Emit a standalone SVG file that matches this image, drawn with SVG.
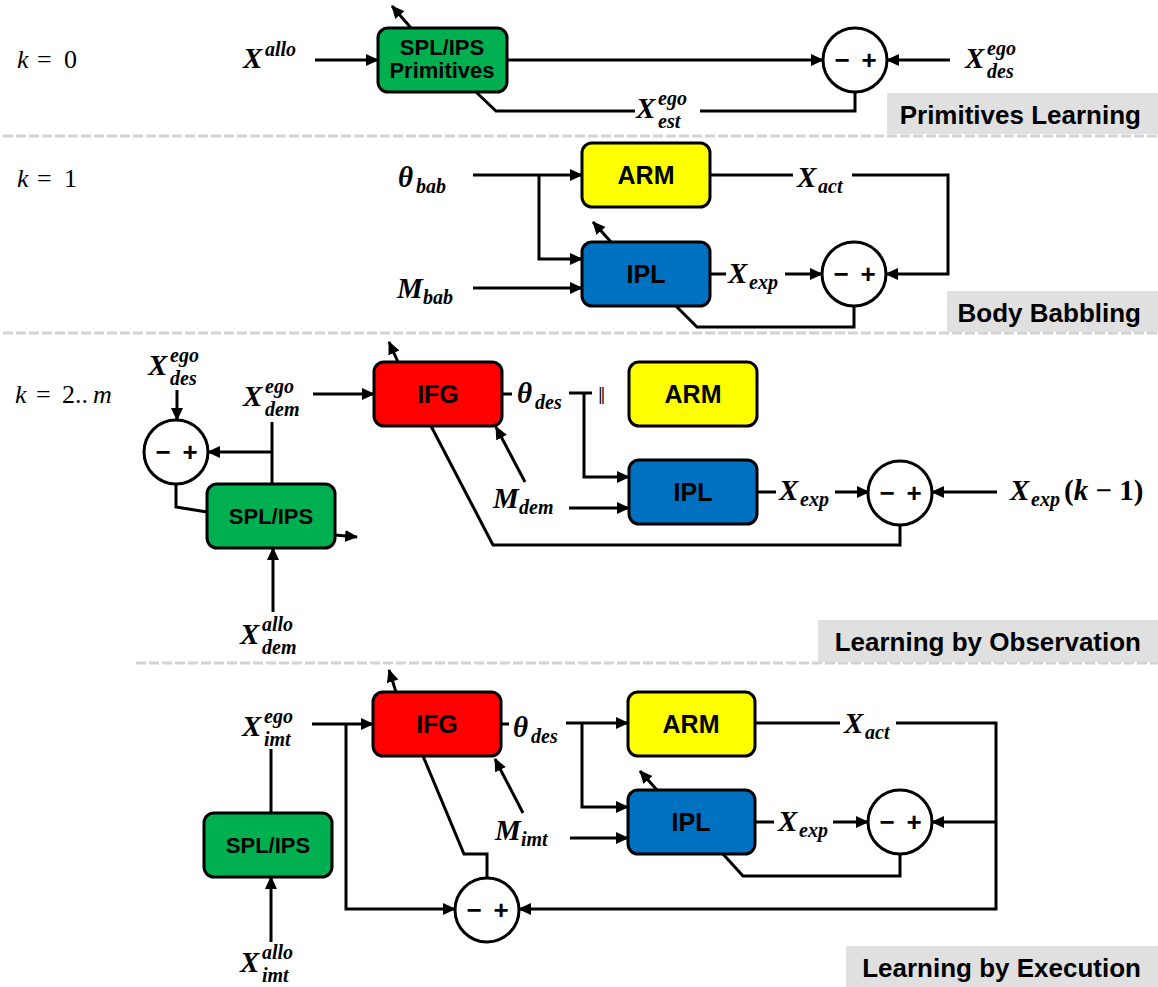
<svg xmlns="http://www.w3.org/2000/svg" width="1158" height="987" viewBox="0 0 1158 987">
<defs>
<marker id="ah" markerUnits="userSpaceOnUse" markerWidth="14" markerHeight="14" refX="12" refY="7" orient="auto">
<path d="M0,1 L13,7 L0,13 z" fill="#000"/>
</marker>
<style>
.box{stroke:#000;stroke-width:3}
.g{fill:#00b050}.y{fill:#ffff00}.b{fill:#0070c0}.r{fill:#ff0000}
.sum{fill:#fff;stroke:#000;stroke-width:3}
.c{fill:none;stroke:#000;stroke-width:3}
.a{marker-end:url(#ah)}
.bt{font-family:"Liberation Sans",Arial,sans-serif;font-weight:bold;font-size:25px;text-anchor:middle;fill:#000}
.bs{font-size:22px}
.pm{font-family:"Liberation Sans",Arial,sans-serif;font-weight:bold;font-size:26px;text-anchor:middle}
.m{font-family:"Liberation Serif","DejaVu Serif",serif;font-style:italic;font-weight:bold;font-size:29px}
.ms{font-size:20px}
.up{font-style:normal}
.k{font-family:"Liberation Serif","DejaVu Serif",serif;font-size:26px}
.lab{font-family:"Liberation Sans",Arial,sans-serif;font-weight:bold;font-size:26px;text-anchor:end}
.lbg{fill:#e0e0e0}
.sep{stroke:#d3d3d3;stroke-width:3;stroke-dasharray:10 3;fill:none}
</style>
</defs>
<rect width="1158" height="987" fill="#fff"/>

<g id="separators">
<path class="sep" d="M3,136 H1158"/>
<path class="sep" d="M3,333 H1158"/>
<path class="sep" d="M136,663 H1158"/>
</g>

<g id="stage-labels">
<rect class="lbg" x="887" y="93" width="271" height="41"/>
<text class="lab" x="1141" y="124">Primitives Learning</text>
<rect class="lbg" x="947" y="291" width="211" height="41"/>
<text class="lab" x="1141" y="322">Body Babbling</text>
<rect class="lbg" x="818" y="620" width="340" height="42"/>
<text class="lab" x="1141" y="651">Learning by Observation</text>
<rect class="lbg" x="846" y="946" width="312" height="41"/>
<text class="lab" x="1141" y="977">Learning by Execution</text>
</g>

<g id="connectors">
<!-- section 1 -->
<path class="c a" d="M315,60 H378"/>
<path class="c a" d="M507,60 H823"/>
<path class="c a" d="M950,60 H887"/>
<path class="c" d="M476,92 L496,111 H635 M700,111 H855 V92"/>
<path class="c a" d="M411,28 L392,6"/>
<!-- section 2 -->
<path class="c a" d="M473,175 H582"/>
<path class="c a" d="M539,175 V259 H582"/>
<path class="c a" d="M473,288 H582"/>
<path class="c a" d="M611,242 L593,222"/>
<path class="c" d="M710,175 H793"/>
<path class="c a" d="M852,175 H948 V274 H886"/>
<path class="c" d="M710,274 H726"/>
<path class="c a" d="M785,274 H822"/>
<path class="c" d="M676,306 L697,327 H854 V306"/>
<!-- section 3 -->
<path class="c a" d="M313,394 H374"/>
<path class="c a" d="M398,362 L389,342"/>
<path class="c a" d="M177,390 V420"/>
<path class="c" d="M272,422 V484"/>
<path class="c a" d="M272,452 H208"/>
<path class="c" d="M176,484 V507 L207,512"/>
<path class="c a" d="M335,535 L357,537"/>
<path class="c a" d="M273,612 V548"/>
<path class="c" d="M502,394 H512"/>
<path class="c" d="M569,393 H592"/>
<path class="c a" d="M584,393 V477 H629"/>
<path class="c a" d="M525,482 L496,427"/>
<path class="c a" d="M569,508 H629"/>
<path class="c" d="M758,492 H776"/>
<path class="c a" d="M835,492 H869"/>
<path class="c a" d="M997,492 H932"/>
<path class="c" d="M431,426 L493,545 H900 V525"/>
<!-- section 4 -->
<path class="c a" d="M312,724 H373"/>
<path class="c a" d="M346,724 V909 H455"/>
<path class="c a" d="M396,692 L389,670"/>
<path class="c" d="M501,724 H509"/>
<path class="c a" d="M566,723 H628"/>
<path class="c a" d="M582,723 V807 H628"/>
<path class="c a" d="M523,813 L495,759"/>
<path class="c a" d="M570,838 H628"/>
<path class="c a" d="M657,790 L640,771"/>
<path class="c" d="M755,723 H840"/>
<path class="c a" d="M896,723 H996 V909 H519"/>
<path class="c a" d="M996,822 H932"/>
<path class="c" d="M755,822 H774"/>
<path class="c a" d="M833,822 H868"/>
<path class="c" d="M723,854 L743,876 H900 V854"/>
<path class="c" d="M423,756 L464,854 H487 V878"/>
<path class="c" d="M271,749 V812"/>
<path class="c a" d="M271,942 V877"/>
</g>

<!-- Section 1 nodes -->
<g id="spl-ips-primitives">
<rect class="box g" x="378" y="28" width="129" height="64" rx="10"/>
<text class="bt bs" x="442" y="55">SPL/IPS</text>
<text class="bt bs" x="442" y="78">Primitives</text>
</g>
<g id="sum-1">
<circle class="sum" cx="855" cy="60" r="32"/>
<text class="pm"><tspan x="842" y="69">−</tspan><tspan x="869" y="69">+</tspan></text>
</g>

<!-- Section 2 nodes -->
<g id="arm-1">
<rect class="box y" x="582" y="143" width="128" height="64" rx="10"/>
<text class="bt" x="646" y="184">ARM</text>
</g>
<g id="ipl-1">
<rect class="box b" x="582" y="242" width="128" height="64" rx="10"/>
<text class="bt" x="646" y="283">IPL</text>
</g>
<g id="sum-2">
<circle class="sum" cx="854" cy="274" r="32"/>
<text class="pm"><tspan x="841" y="283">−</tspan><tspan x="868" y="283">+</tspan></text>
</g>

<!-- Section 3 nodes -->
<g id="ifg-2">
<rect class="box r" x="374" y="362" width="128" height="64" rx="10"/>
<text class="bt" x="438" y="403">IFG</text>
</g>
<g id="arm-2">
<rect class="box y" x="629" y="362" width="128" height="64" rx="10"/>
<text class="bt" x="693" y="403">ARM</text>
</g>
<g id="ipl-2">
<rect class="box b" x="629" y="460" width="128" height="64" rx="10"/>
<text class="bt" x="693" y="501">IPL</text>
</g>
<g id="spl-ips-2">
<rect class="box g" x="207" y="484" width="128" height="64" rx="10"/>
<text class="bt bs" x="271" y="524">SPL/IPS</text>
</g>
<g id="sum-3a">
<circle class="sum" cx="176" cy="452" r="32"/>
<text class="pm"><tspan x="163" y="461">−</tspan><tspan x="190" y="461">+</tspan></text>
</g>
<g id="sum-3b">
<circle class="sum" cx="900" cy="493" r="32"/>
<text class="pm"><tspan x="887" y="502">−</tspan><tspan x="914" y="502">+</tspan></text>
</g>

<!-- Section 4 nodes -->
<g id="ifg-3">
<rect class="box r" x="373" y="692" width="128" height="64" rx="10"/>
<text class="bt" x="437" y="733">IFG</text>
</g>
<g id="arm-3">
<rect class="box y" x="628" y="692" width="127" height="64" rx="10"/>
<text class="bt" x="691" y="733">ARM</text>
</g>
<g id="ipl-3">
<rect class="box b" x="628" y="790" width="127" height="64" rx="10"/>
<text class="bt" x="691" y="831">IPL</text>
</g>
<g id="spl-ips-3">
<rect class="box g" x="204" y="813" width="128" height="64" rx="10"/>
<text class="bt bs" x="268" y="853">SPL/IPS</text>
</g>
<g id="sum-4a">
<circle class="sum" cx="900" cy="822" r="32"/>
<text class="pm"><tspan x="887" y="831">−</tspan><tspan x="914" y="831">+</tspan></text>
</g>
<g id="sum-4b">
<circle class="sum" cx="487" cy="910" r="32"/>
<text class="pm"><tspan x="474" y="919">−</tspan><tspan x="501" y="919">+</tspan></text>
</g>

<g id="math-labels">
<!-- k labels -->
<text class="k"><tspan x="17" y="68" font-style="italic">k</tspan><tspan x="37" y="68">=</tspan><tspan x="64" y="68">0</tspan></text>
<text class="k"><tspan x="17" y="187" font-style="italic">k</tspan><tspan x="37" y="187">=</tspan><tspan x="64" y="187">1</tspan></text>
<text class="k"><tspan x="15" y="403" font-style="italic">k</tspan><tspan x="36" y="403">=</tspan><tspan x="62" y="403">2..</tspan><tspan x="93" y="403" font-style="italic">m</tspan></text>

<!-- section 1 -->
<text class="m"><tspan x="243" y="68">X</tspan><tspan class="ms" x="265" y="56">allo</tspan></text>
<text class="m"><tspan x="965" y="68">X</tspan><tspan class="ms" x="987" y="55">ego</tspan><tspan class="ms" x="987" y="78">des</tspan></text>
<text class="m"><tspan x="636" y="118">X</tspan><tspan class="ms" x="658" y="105">ego</tspan><tspan class="ms" x="658" y="128">est</tspan></text>

<!-- section 2 -->
<text class="m"><tspan x="398" y="187">θ</tspan><tspan class="ms" x="416" y="193">bab</tspan></text>
<text class="m"><tspan x="397" y="298">M</tspan><tspan class="ms" x="423" y="304">bab</tspan></text>
<text class="m"><tspan x="797" y="187">X</tspan><tspan class="ms" x="818" y="193">act</tspan></text>
<text class="m"><tspan x="728" y="283">X</tspan><tspan class="ms" x="749" y="289">exp</tspan></text>

<!-- section 3 -->
<text class="m"><tspan x="148" y="375">X</tspan><tspan class="ms" x="170" y="362">ego</tspan><tspan class="ms" x="170" y="385">des</tspan></text>
<text class="m"><tspan x="243" y="406">X</tspan><tspan class="ms" x="265" y="393">ego</tspan><tspan class="ms" x="265" y="416">dem</tspan></text>
<text class="m"><tspan x="517" y="403">θ</tspan><tspan class="ms" x="535" y="409">des</tspan></text>
<text class="k" x="598" y="404" font-size="27">‖</text>
<text class="m"><tspan x="493" y="508">M</tspan><tspan class="ms" x="519" y="514">dem</tspan></text>
<text class="m"><tspan x="779" y="500">X</tspan><tspan class="ms" x="800" y="506">exp</tspan></text>
<text class="m"><tspan x="1010" y="500">X</tspan><tspan class="ms" x="1031" y="506">exp</tspan><tspan class="up" x="1064" y="500">(</tspan><tspan>k</tspan><tspan class="up"> − 1)</tspan></text>
<text class="m"><tspan x="240" y="644">X</tspan><tspan class="ms" x="262" y="631">allo</tspan><tspan class="ms" x="262" y="654">dem</tspan></text>

<!-- section 4 -->
<text class="m"><tspan x="242" y="736">X</tspan><tspan class="ms" x="264" y="723">ego</tspan><tspan class="ms" x="264" y="746">imt</tspan></text>
<text class="m"><tspan x="513" y="737">θ</tspan><tspan class="ms" x="531" y="743">des</tspan></text>
<text class="m"><tspan x="495" y="840">M</tspan><tspan class="ms" x="521" y="846">imt</tspan></text>
<text class="m"><tspan x="844" y="733">X</tspan><tspan class="ms" x="865" y="739">act</tspan></text>
<text class="m"><tspan x="778" y="831">X</tspan><tspan class="ms" x="799" y="837">exp</tspan></text>
<text class="m"><tspan x="240" y="972">X</tspan><tspan class="ms" x="262" y="959">allo</tspan><tspan class="ms" x="262" y="982">imt</tspan></text>
</g>
</svg>
